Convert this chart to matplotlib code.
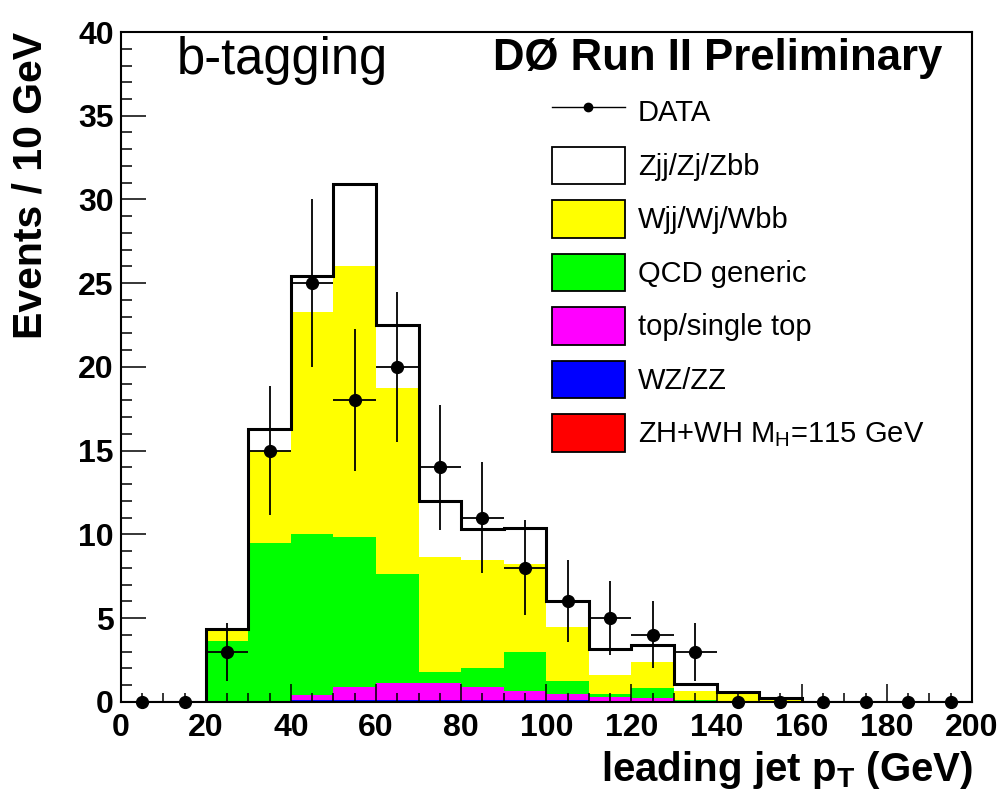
import matplotlib
matplotlib.use("Agg")
import matplotlib.pyplot as plt
import numpy as np
from matplotlib.lines import Line2D
from matplotlib.patches import Patch
from matplotlib.ticker import MultipleLocator

plt.rcParams["font.family"] = ["Liberation Sans", "DejaVu Sans"]
plt.rcParams["mathtext.fontset"] = "custom"
plt.rcParams["mathtext.rm"] = "Liberation Sans"
plt.rcParams["mathtext.bf"] = "Liberation Sans:bold"

# leading jet pT bins (GeV)
bin_edges = list(range(0, 210, 10))

# observed counts per bin
data_counts = [0, 0, 3, 15, 25, 18, 20, 14, 11, 8, 6, 5, 4, 3, 0, 0, 0, 0, 0, 0]

# expected backgrounds per bin, bottom of the stack first
zh_wh = [0, 0, 0, 0, 0.03, 0.03, 0.03, 0.03, 0.03, 0.03, 0.03, 0, 0, 0, 0, 0, 0, 0, 0, 0]
wz_zz = [0, 0, 0, 0, 0.07, 0.08, 0.08, 0.08, 0.07, 0.07, 0.05, 0.03, 0, 0, 0, 0, 0, 0, 0, 0]
top = [0, 0, 0, 0.05, 0.3, 0.8, 1.0, 1.0, 0.8, 0.55, 0.37, 0.27, 0.2, 0.05, 0, 0, 0, 0, 0, 0]
qcd = [0, 0, 3.65, 9.45, 9.6, 8.9, 6.5, 0.65, 1.1, 2.35, 0.79, 0.16, 0.6, 0.05, 0.02, 0, 0, 0, 0, 0]
wjj = [0, 0, 0.6, 5.5, 13.3, 16.2, 11.1, 6.9, 6.45, 5.25, 3.23, 1.14, 1.6, 0.54, 0.42, 0.16, 0, 0, 0, 0]
zjj = [0, 0, 0.1, 1.3, 2.1, 4.9, 3.8, 3.35, 1.85, 2.15, 1.53, 1.54, 1.0, 0.4, 0.16, 0.08, 0, 0, 0, 0]

stack_names = ["ZH+WH M$_\\mathrm{H}$=115 GeV", "WZ/ZZ", "top/single top",
               "QCD generic", "Wjj/Wj/Wbb", "Zjj/Zj/Zbb"]
stack_colors = ["#ff0000", "#0000ff", "#ff00ff", "#00ff00", "#ffff00", "#ffffff"]


def main():
    edges = np.array(bin_edges, dtype=float)
    centers = 0.5 * (edges[:-1] + edges[1:])
    comps = [zh_wh, wz_zz, top, qcd, wjj, zjj]

    fig = plt.figure(figsize=(10.08, 7.89), dpi=100)
    ax = fig.add_axes([0.1197, 0.1106, 0.8446, 0.8488])

    base = np.zeros(len(centers))
    for vals, col in zip(comps, stack_colors):
        upper = base + np.array(vals)
        ax.stairs(upper, edges, baseline=base, fill=True, color=col, lw=0, zorder=1)
        base = upper
    ax.stairs(base, edges, color="black", lw=2.2, zorder=1.2)

    counts = np.array(data_counts, dtype=float)
    ax.errorbar(centers, counts, yerr=np.sqrt(counts), xerr=5, fmt="o", color="black",
                ms=8.5, elinewidth=1.3, capsize=0, zorder=5, clip_on=False)

    ax.set_xlim(0, 200)
    ax.set_ylim(0, 40)
    ax.xaxis.set_major_locator(MultipleLocator(20))
    ax.xaxis.set_minor_locator(MultipleLocator(5))
    ax.yaxis.set_major_locator(MultipleLocator(5))
    ax.yaxis.set_minor_locator(MultipleLocator(1))
    ax.tick_params(which="both", direction="in", top=False, right=False, width=1.1)
    ax.tick_params(axis="x", which="major", length=13, labelsize=23, pad=8)
    ax.tick_params(axis="x", which="minor", length=6.5)
    ax.tick_params(axis="y", which="major", length=18, labelsize=23, pad=5)
    ax.tick_params(axis="y", which="minor", length=8)
    for lab in ax.get_xticklabels() + ax.get_yticklabels():
        lab.set_fontweight("bold")
    for sp in ax.spines.values():
        sp.set_linewidth(1.5)

    fig.text(973 / 1008, 1 - 781 / 789, r"leading jet p$_\mathbf{T}$ (GeV)",
             ha="right", va="baseline", fontsize=29, fontweight="bold")
    fig.text(31 / 1008, 1 - 32 / 789, "Events / 10 GeV", rotation=90,
             ha="center", va="top", fontsize=29.5, fontweight="bold")
    fig.text(282 / 1008, 1 - 74 / 789, "b-tagging", ha="center", va="baseline",
             fontsize=36.5)
    fig.text(718 / 1008, 1 - 70 / 789, "DØ Run II Preliminary", ha="center",
             va="baseline", fontsize=31.5, fontweight="bold")

    handles = [Line2D([], [], color="black", marker="o", ms=6, lw=1)]
    labels = ["DATA"]
    for name, col in zip(stack_names[::-1], stack_colors[::-1]):
        handles.append(Patch(facecolor=col, edgecolor="black", lw=1.3))
        labels.append(name)
    fig.legend(handles, labels, loc="upper left", bbox_to_anchor=(552 / 1008, 1 - 93 / 789),
               frameon=False, fontsize=21, borderpad=0, borderaxespad=0,
               handlelength=2.5, handleheight=1.6, handletextpad=0.45, labelspacing=0.55)

    fig.savefig("out.png", dpi=100)
    plt.close(fig)


if __name__ == "__main__":
    main()
